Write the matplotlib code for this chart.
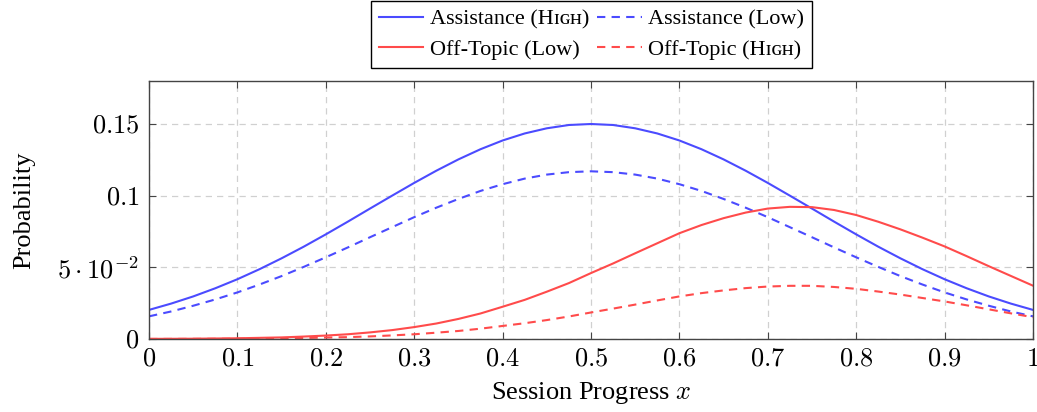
import numpy as np
import matplotlib.pyplot as plt

plt.rcParams['font.family'] = ['Liberation Serif', 'DejaVu Serif']
plt.rcParams['mathtext.fontset'] = 'cm'

# values, every 0.025 along x
x = [0.000, 0.025, 0.050, 0.075, 0.100, 0.125, 0.150, 0.175, 0.200, 0.225,
     0.250, 0.275, 0.300, 0.325, 0.350, 0.375, 0.400, 0.425, 0.450, 0.475,
     0.500, 0.525, 0.550, 0.575, 0.600, 0.625, 0.650, 0.675, 0.700, 0.725,
     0.750, 0.775, 0.800, 0.825, 0.850, 0.875, 0.900, 0.925, 0.950, 0.975, 1.000]

assist_high = [0.0203, 0.0247, 0.0297, 0.0354, 0.0417, 0.0487, 0.0563, 0.0644, 0.0730, 0.0819,
               0.0910, 0.1000, 0.1089, 0.1174, 0.1253, 0.1324, 0.1385, 0.1434, 0.1470, 0.1493,
               0.1500, 0.1493, 0.1470, 0.1434, 0.1385, 0.1324, 0.1253, 0.1174, 0.1089, 0.1000,
               0.0910, 0.0819, 0.0730, 0.0644, 0.0563, 0.0487, 0.0417, 0.0354, 0.0297, 0.0247, 0.0203]
assist_low = [0.0158, 0.0192, 0.0232, 0.0276, 0.0325, 0.0380, 0.0439, 0.0503, 0.0570, 0.0639,
              0.0710, 0.0780, 0.0850, 0.0916, 0.0977, 0.1033, 0.1080, 0.1119, 0.1147, 0.1164,
              0.1170, 0.1164, 0.1147, 0.1119, 0.1080, 0.1033, 0.0977, 0.0916, 0.0850, 0.0780,
              0.0710, 0.0639, 0.0570, 0.0503, 0.0439, 0.0380, 0.0325, 0.0276, 0.0232, 0.0192, 0.0158]
offtopic_low = [0.0001, 0.00014, 0.0002, 0.00035, 0.0005, 0.0008, 0.0011, 0.0017, 0.0024, 0.0033,
                0.0046, 0.0062, 0.0083, 0.0108, 0.0140, 0.0178, 0.0225, 0.0273, 0.0330, 0.0390,
                0.0460, 0.0527, 0.0598, 0.0668, 0.0738, 0.0795, 0.0843, 0.0882, 0.0910, 0.0922,
                0.0920, 0.0900, 0.0865, 0.0818, 0.0765, 0.0707, 0.0646, 0.0578, 0.0508, 0.0440, 0.0372]
offtopic_high = [0.00004, 0.00006, 0.0001, 0.00014, 0.0002, 0.0003, 0.0005, 0.0007, 0.0010, 0.0013,
                 0.0018, 0.0025, 0.0033, 0.0044, 0.0056, 0.0072, 0.0091, 0.0110, 0.0132, 0.0157,
                 0.0185, 0.0212, 0.0240, 0.0269, 0.0297, 0.0320, 0.0339, 0.0355, 0.0366, 0.0371,
                 0.0371, 0.0363, 0.0350, 0.0331, 0.0310, 0.0286, 0.0262, 0.0235, 0.0207, 0.0179, 0.0152]

xticks = [0, 0.1, 0.2, 0.3, 0.4, 0.5, 0.6, 0.7, 0.8, 0.9, 1]
xticklabels = ['$0$', '$0.1$', '$0.2$', '$0.3$', '$0.4$', '$0.5$', '$0.6$', '$0.7$', '$0.8$', '$0.9$', '$1$']
yticks = [0, 0.05, 0.1, 0.15]
yticklabels = ['$0$', r'$5\cdot10^{-2}$', '$0.1$', '$0.15$']

blue = '#4b4bff'
red = '#ff4b4b'

fig = plt.figure(figsize=(10.37, 4.12), dpi=100)
ax = fig.add_axes([0.1437, 0.1772, 0.8524, 0.6262])

h1, = ax.plot(x, assist_high, color=blue, lw=1.5, label='Assistance (H\u026a\u0262\u029c)')
h2, = ax.plot(x, assist_low, color=blue, lw=1.5, dashes=(4, 3), label='Assistance (L\u1d0f\u1d21)')
h3, = ax.plot(x, offtopic_low, color=red, lw=1.5, label='Off-Topic (L\u1d0f\u1d21)')
h4, = ax.plot(x, offtopic_high, color=red, lw=1.5, dashes=(4, 3), label='Off-Topic (H\u026a\u0262\u029c)')

ax.set_xlim(0, 1)
ax.set_ylim(0, 0.18)
ax.set_xticks(xticks)
ax.set_xticklabels(xticklabels)
ax.set_yticks(yticks)
ax.set_yticklabels(yticklabels)
ax.tick_params(labelsize=19, direction='in', top=True, right=True, length=5, width=0.8,
               pad=7, colors='#444444', labelcolor='black')
ax.grid(True, color='#d0d0d0', ls=(0, (5, 4)), lw=0.9)
for s in ax.spines.values():
    s.set_color('#444444')
    s.set_linewidth(1.0)

ax.set_xlabel('Session Progress $x$', fontsize=19, labelpad=7)
ax.set_ylabel('Probability', fontsize=19, labelpad=16)

# ncol=2 fills column by column, so order the handles to get rows of pairs
leg = fig.legend(handles=[h1, h3, h2, h4], loc='upper center', bbox_to_anchor=(0.5705, 1.0),
                 ncol=2, fontsize=16, frameon=True, fancybox=False, edgecolor='black',
                 framealpha=1, borderaxespad=0.05, handlelength=2.0, columnspacing=0.35,
                 handletextpad=0.3, borderpad=0.35, labelspacing=0.45)
leg.get_frame().set_linewidth(1.0)

fig.savefig('out.png', dpi=100)
